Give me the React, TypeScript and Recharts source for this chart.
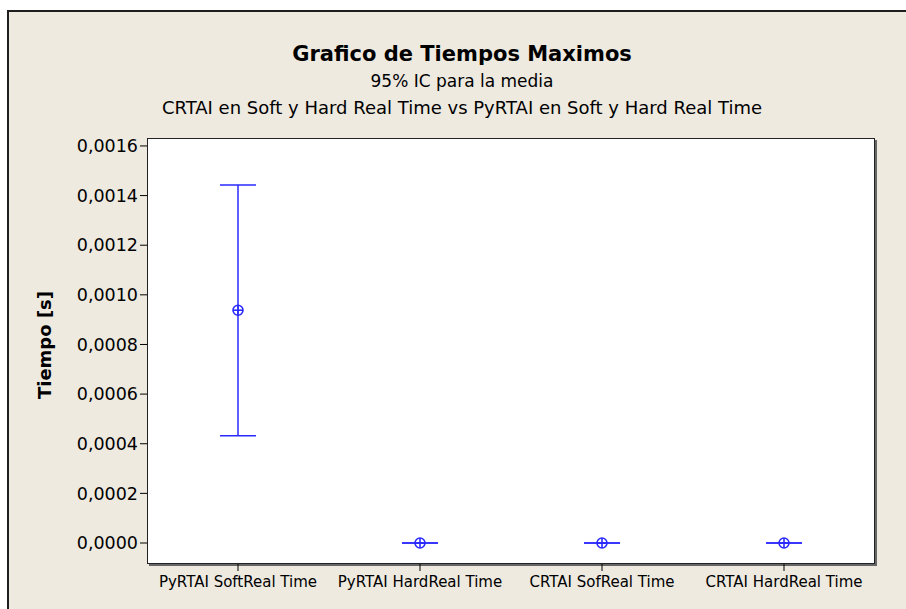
import React from "react"
import { ComposedChart, Line, ErrorBar, XAxis, YAxis, CartesianGrid } from "recharts"

// CI de los tiempos maximos (segundos)
const categories = [
  "PyRTAI SoftReal Time",
  "PyRTAI HardReal Time",
  "CRTAI SofReal Time",
  "CRTAI HardReal Time",
]
const means = [0.000938, 0.0, 0.0, 0.0]
const lowerCI = [0.000432, 0.0, 0.0, 0.0]
const upperCI = [0.001443, 0.0, 0.0, 0.0]
const yTicks = [0, 0.0002, 0.0004, 0.0006, 0.0008, 0.001, 0.0012, 0.0014, 0.0016]

const BLUE = "#2a2aff"
const BG = "#eeeae0"
const FONT = "'DejaVu Sans', Verdana, sans-serif"

const data = categories.map((name, i) => ({
  name,
  mean: means[i],
  ci: [means[i] - lowerCI[i], upperCI[i] - means[i]],
}))

const fmt = (v: number) => v.toFixed(4).replace(".", ",")

function CrossCircle(props: any) {
  const { cx, cy } = props
  if (cx == null || cy == null) return null
  const r = 5
  return (
    <g key={`m-${props.index}`}>
      <circle cx={cx} cy={cy} r={r} fill="none" stroke={BLUE} strokeWidth={1.6} />
      <line x1={cx - r} y1={cy} x2={cx + r} y2={cy} stroke={BLUE} strokeWidth={1.6} />
      <line x1={cx} y1={cy - r} x2={cx} y2={cy + r} stroke={BLUE} strokeWidth={1.6} />
    </g>
  )
}

function YLabel(props: any) {
  const vb = props.viewBox || {}
  const y = vb.y + vb.height / 2 - 6
  return (
    <text
      x={44}
      y={y}
      transform={`rotate(-90, 44, ${y})`}
      textAnchor="middle"
      dominantBaseline="central"
      fontFamily={FONT}
      fontWeight="bold"
      fontSize={18}
      fill="#000"
    >
      Tiempo [s]
    </text>
  )
}

export default function App() {
  return (
    <div style={{ position: "absolute", left: 0, top: 0, width: 906, height: 609, background: "#fff", overflow: "hidden" }}>
      <div
        style={{
          position: "absolute",
          left: 7,
          top: 10,
          width: 920,
          height: 620,
          background: BG,
          borderTop: "2px solid #1e1e1e",
          borderLeft: "2px solid #1e1e1e",
        }}
      />
      <div
        style={{
          position: "absolute",
          left: 147,
          top: 138,
          width: 728,
          height: 426,
          background: "#fff",
          border: "1px solid #222",
          boxShadow: "2px 2px 0 #666",
          boxSizing: "border-box",
        }}
      />
      <div style={{ position: "absolute", left: 0, width: 924, top: 40, textAlign: "center", fontFamily: FONT, color: "#000" }}>
        <div style={{ fontSize: 21, fontWeight: "bold", lineHeight: "28px" }}>Grafico de Tiempos Maximos</div>
        <div style={{ fontSize: 17, lineHeight: "26px" }}>95% IC para la media</div>
        <div style={{ fontSize: 18, lineHeight: "28px" }}>CRTAI en Soft y Hard Real Time vs PyRTAI en Soft y Hard Real Time</div>
      </div>
      <div style={{ position: "absolute", left: 0, top: 0 }}>
        <ComposedChart width={906} height={609} data={data} margin={{ top: 138, right: 31, bottom: 15, left: 0 }}>
          <CartesianGrid horizontal={false} vertical={false} fill="none" />
          <XAxis
            dataKey="name"
            scale="band"
            height={30}
            axisLine={false}
            tickLine={{ stroke: "#000" }}
            tickSize={7}
            tick={{ fill: "#000", fontSize: 15, fontFamily: FONT, dy: 3 }}
            interval={0}
          />
          <YAxis
            width={147}
            type="number"
            domain={[-0.0000846, 0.001632]}
            allowDataOverflow
            ticks={yTicks}
            tickFormatter={fmt}
            axisLine={false}
            tickLine={{ stroke: "#000" }}
            tickSize={7}
            tick={{ fill: "#000", fontSize: 17.5, fontFamily: FONT }}
            label={<YLabel />}
          />
          <Line
            dataKey="mean"
            stroke="none"
            dot={<CrossCircle />}
            activeDot={false}
            isAnimationActive={false}
          >
            <ErrorBar dataKey="ci" width={18} stroke={BLUE} strokeWidth={1.5} direction="y" />
          </Line>
        </ComposedChart>
      </div>
    </div>
  )
}
